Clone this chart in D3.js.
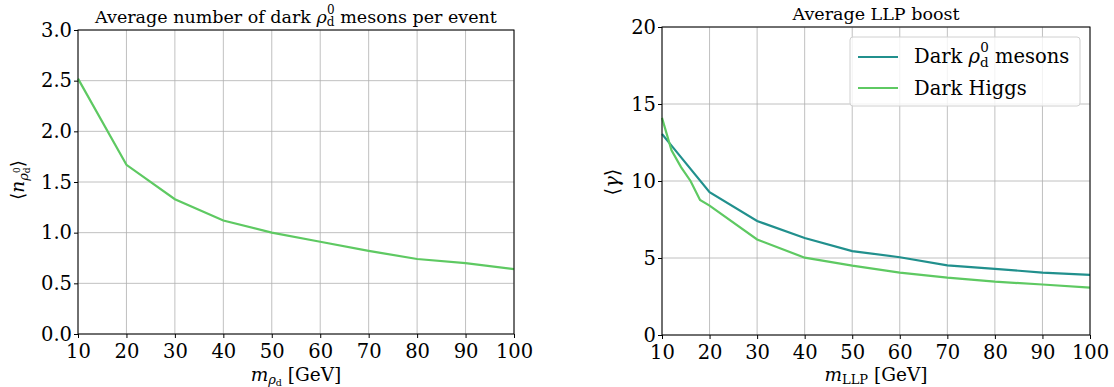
<!DOCTYPE html>
<html>
<head>
<meta charset="utf-8">
<script src="https://cdn.jsdelivr.net/npm/d3@7"></script>
<style>
  body { margin: 0; background: #fff; }
  svg text { font-family: "DejaVu Serif", serif; fill: #000; }
</style>
</head>
<body>
<div id="chart"></div>
<script>
// left panel: average number of dark rho mesons
var massLeft = [10, 20, 30, 40, 50, 60, 70, 80, 90, 100];
var nRho = [2.52, 1.67, 1.33, 1.12, 1.0, 0.91, 0.82, 0.74, 0.70, 0.64];

// right panel: average LLP boost
var massRho = [10, 12, 20, 30, 40, 50, 60, 70, 80, 90, 100];
var boostRho = [13.05, 12.3, 9.27, 7.4, 6.3, 5.45, 5.05, 4.52, 4.3, 4.05, 3.9];
var massHiggs = [10, 12, 14, 16, 18, 20, 30, 40, 50, 60, 70, 80, 90, 100];
var boostHiggs = [14.1, 12.0, 10.9, 10.0, 8.77, 8.4, 6.2, 5.02, 4.5, 4.05, 3.72, 3.46, 3.28, 3.08];

var xTicks = [10, 20, 30, 40, 50, 60, 70, 80, 90, 100];
var yTicksLeft = [0, 0.5, 1.0, 1.5, 2.0, 2.5, 3.0];
var yTicksRight = [0, 5, 10, 15, 20];

var teal = "#21908d", green = "#5ec962";
var serif = "DejaVu Serif";

var svg = d3.select("#chart").append("svg")
  .attr("width", 1114).attr("height", 387)
  .attr("font-family", serif);

function panel(opt) {
  var x = d3.scaleLinear().domain([10, 100]).range([opt.x0, opt.x1]);
  var y = d3.scaleLinear().domain(opt.ydom).range([opt.y1, opt.y0]);
  var g = svg.append("g");

  // grid
  g.selectAll(".gx").data(xTicks).enter().append("line")
    .attr("x1", d => x(d)).attr("x2", d => x(d))
    .attr("y1", opt.y0).attr("y2", opt.y1)
    .attr("stroke", "#b0b0b0").attr("stroke-width", 0.8);
  g.selectAll(".gy").data(opt.yticks).enter().append("line")
    .attr("x1", opt.x0).attr("x2", opt.x1)
    .attr("y1", d => y(d)).attr("y2", d => y(d))
    .attr("stroke", "#b0b0b0").attr("stroke-width", 0.8);

  var line = d3.line().x(d => x(d[0])).y(d => y(d[1]));
  opt.series.forEach(function (s) {
    g.append("path")
      .datum(d3.zip(s.x, s.y))
      .attr("d", line)
      .attr("fill", "none")
      .attr("stroke", s.color)
      .attr("stroke-width", 2.2);
  });

  // axes
  var ax = g.append("g").attr("transform", "translate(0," + opt.y1 + ")")
    .call(d3.axisBottom(x).tickValues(xTicks).tickSize(4).tickPadding(1));
  var ay = g.append("g").attr("transform", "translate(" + opt.x0 + ",0)")
    .call(d3.axisLeft(y).tickValues(opt.yticks).tickSize(4).tickPadding(2)
      .tickFormat(opt.yfmt));
  [ax, ay].forEach(function (a) {
    a.attr("font-family", serif).attr("font-size", 19.5);
    a.selectAll("text").attr("fill", "#000");
    a.select(".domain").remove();
    a.selectAll(".tick line").attr("stroke", "#000");
  });
  ax.selectAll("text").attr("dy", "0.95em");

  g.append("rect")
    .attr("x", opt.x0).attr("y", opt.y0)
    .attr("width", opt.x1 - opt.x0).attr("height", opt.y1 - opt.y0)
    .attr("fill", "none").attr("stroke", "#000").attr("stroke-width", 1);

  return { x: x, y: y, g: g };
}

var L = panel({
  x0: 78, x1: 514, y0: 30, y1: 334,
  ydom: [0, 3], yticks: yTicksLeft, yfmt: d3.format(".1f"),
  series: [{ x: massLeft, y: nRho, color: green }]
});

var R = panel({
  x0: 662, x1: 1090, y0: 27, y1: 335,
  ydom: [0, 20], yticks: yTicksRight, yfmt: d3.format("d"),
  series: [
    { x: massRho, y: boostRho, color: teal },
    { x: massHiggs, y: boostHiggs, color: green }
  ]
});

// titles
var t1 = svg.append("text").attr("x", 296).attr("y", 23)
  .attr("text-anchor", "middle").attr("font-size", 17.5);
t1.append("tspan").text("Average number of dark ");
t1.append("tspan").attr("font-style", "italic").text("ρ");
t1.append("tspan").attr("dy", 3).attr("font-size", 12).text("d");
t1.append("tspan").attr("dx", -7.5).attr("dy", -12).attr("font-size", 12).text("0");
t1.append("tspan").attr("dy", 9).text(" mesons per event");

svg.append("text").attr("x", 876).attr("y", 20)
  .attr("text-anchor", "middle").attr("font-size", 17.5)
  .text("Average LLP boost");

// x labels
var xl1 = svg.append("text").attr("x", 296).attr("y", 381)
  .attr("text-anchor", "middle").attr("font-size", 18.5);
xl1.append("tspan").attr("font-style", "italic").text("m");
xl1.append("tspan").attr("dy", 3).attr("font-style", "italic").attr("font-size", 13).text("ρ");
xl1.append("tspan").attr("dy", 2).attr("font-size", 9.5).text("d");
xl1.append("tspan").attr("dy", -5).text(" [GeV]");

var xl2 = svg.append("text").attr("x", 876).attr("y", 381)
  .attr("text-anchor", "middle").attr("font-size", 18.5);
xl2.append("tspan").attr("font-style", "italic").text("m");
xl2.append("tspan").attr("dy", 3).attr("font-size", 13).text("LLP");
xl2.append("tspan").attr("dy", -3).text(" [GeV]");

// y labels
var yl1 = svg.append("text")
  .attr("transform", "translate(24,180) rotate(-90)")
  .attr("text-anchor", "middle").attr("font-size", 18.5);
yl1.append("tspan").text("⟨");
yl1.append("tspan").attr("font-style", "italic").text("n");
yl1.append("tspan").attr("dy", 4).attr("font-style", "italic").attr("font-size", 13).text("ρ");
yl1.append("tspan").attr("dy", 2).attr("font-size", 9).text("d");
yl1.append("tspan").attr("dx", -5.5).attr("dy", -10).attr("font-size", 9).text("0");
yl1.append("tspan").attr("dy", 4).text("⟩");

var yl2 = svg.append("text")
  .attr("transform", "translate(619,182) rotate(-90)")
  .attr("text-anchor", "middle").attr("font-size", 19.5);
yl2.append("tspan").text("⟨");
yl2.append("tspan").attr("font-style", "italic").text("γ");
yl2.append("tspan").text("⟩");

// legend
var leg = svg.append("g").attr("transform", "translate(850,37)");
leg.append("rect").attr("width", 230).attr("height", 69).attr("rx", 3)
  .attr("fill", "#fff").attr("fill-opacity", 0.8)
  .attr("stroke", "#d0d0d0").attr("stroke-width", 1);
var legItems = [
  { color: teal, y: 20 },
  { color: green, y: 51 }
];
leg.selectAll(".li").data(legItems).enter().append("line")
  .attr("x1", 8).attr("x2", 48)
  .attr("y1", d => d.y).attr("y2", d => d.y)
  .attr("stroke", d => d.color).attr("stroke-width", 2.2);
var lt1 = leg.append("text").attr("x", 64).attr("y", 26).attr("font-size", 19.5);
lt1.append("tspan").text("Dark ");
lt1.append("tspan").attr("font-style", "italic").text("ρ");
lt1.append("tspan").attr("dy", 4).attr("font-size", 13.5).text("d");
lt1.append("tspan").attr("dx", -8.5).attr("dy", -15).attr("font-size", 13.5).text("0");
lt1.append("tspan").attr("dy", 11).text(" mesons");
leg.append("text").attr("x", 64).attr("y", 58).attr("font-size", 19.5).text("Dark Higgs");
</script>
</body>
</html>
